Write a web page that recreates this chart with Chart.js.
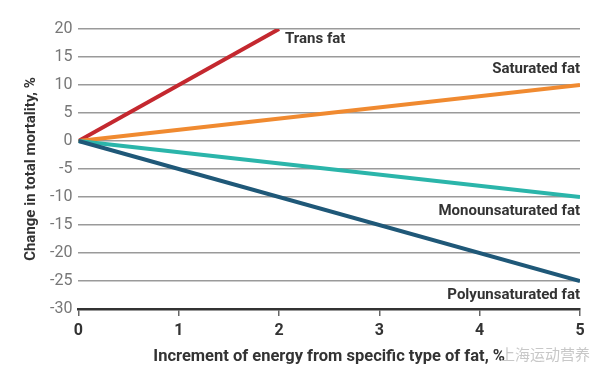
<!DOCTYPE html>
<html>
<head>
<meta charset="utf-8">
<script src="https://cdn.jsdelivr.net/npm/chart.js@4"></script>
<style>
  html, body { margin: 0; padding: 0; background: #fff; }
  #wrap { width: 600px; height: 379px; position: relative; }
  #mark { position: absolute; left: 500px; top: 343px; font: 15px "Noto Sans CJK SC"; color: #c8c8c8; }
</style>
</head>
<body>
<div id="wrap">
  <canvas id="chart" width="600" height="379"></canvas>
  <div id="mark">上海运动营养</div>
</div>
<script>
const fatNames = ['Trans fat', 'Saturated fat', 'Monounsaturated fat', 'Polyunsaturated fat'];
const fatColors = ['#c4282f', '#f08a30', '#2bb5aa', '#1f5878'];
const energyX = [[0, 2], [0, 5], [0, 5], [0, 5]];
const mortalityY = [[0, 20], [0, 10], [0, -10], [0, -25]];
const xTicks = [0, 1, 2, 3, 4, 5];
const yTicks = [20, 15, 10, 5, 0, -5, -10, -15, -20, -25, -30];

const fontFam = '"Roboto", sans-serif';

// label text next to the end of each line
const lineLabels = {
  id: 'lineLabels',
  afterDatasetsDraw(chart) {
    const ctx = chart.ctx;
    const xs = chart.scales.x, ys = chart.scales.y;
    ctx.save();
    ctx.font = 'bold 15px ' + fontFam;
    ctx.fillStyle = '#333';
    ctx.textBaseline = 'middle';
    chart.data.datasets.forEach((ds, i) => {
      const end = ds.data[ds.data.length - 1];
      const px = xs.getPixelForValue(end.x);
      const py = ys.getPixelForValue(end.y);
      if (i === 0) {
        ctx.textAlign = 'left';
        ctx.fillText(ds.label, px + 6, py + 10);
      } else if (i === 1) {
        ctx.textAlign = 'right';
        ctx.fillText(ds.label, xs.right, py - 16);
      } else {
        ctx.textAlign = 'right';
        ctx.fillText(ds.label, xs.right, py + 14);
      }
    });
    ctx.restore();
  }
};

new Chart(document.getElementById('chart'), {
  type: 'line',
  data: {
    datasets: fatNames.map((name, i) => ({
      label: name,
      data: energyX[i].map((x, j) => ({ x: x, y: mortalityY[i][j] })),
      borderColor: fatColors[i],
      borderWidth: 4,
      pointRadius: 0,
      tension: 0,
      order: 3 - i
    }))
  },
  options: {
    responsive: false,
    animation: false,
    layout: { padding: { top: 29, right: 20, bottom: 8, left: 18 } },
    plugins: { legend: { display: false }, tooltip: { enabled: false } },
    scales: {
      x: {
        type: 'linear',
        min: 0, max: 5,
        afterBuildTicks: axis => { axis.ticks = xTicks.map(v => ({ value: v })); },
        grid: { drawOnChartArea: false, tickLength: 7, color: '#666', lineWidth: 1.5 },
        border: { color: '#333', width: 2.5 },
        ticks: { color: '#333', font: { family: fontFam, size: 16, weight: 'bold' }, padding: 5 },
        title: { display: true, text: 'Increment of energy from specific type of fat, %', color: '#333', font: { family: fontFam, size: 16.5, weight: 'bold' }, padding: { top: 2 } }
      },
      y: {
        min: -30, max: 20,
        afterBuildTicks: axis => { axis.ticks = yTicks.map(v => ({ value: v })); },
        grid: { color: '#9a9a9a', lineWidth: 1.5, drawTicks: false },
        border: { display: false },
        ticks: { color: '#777', font: { family: fontFam, size: 16 }, padding: 6 },
        title: { display: true, text: 'Change in total mortality, %', color: '#333', font: { family: fontFam, size: 15, weight: 'bold' }, padding: { bottom: 4 } }
      }
    }
  },
  plugins: [lineLabels]
});
</script>
</body>
</html>
